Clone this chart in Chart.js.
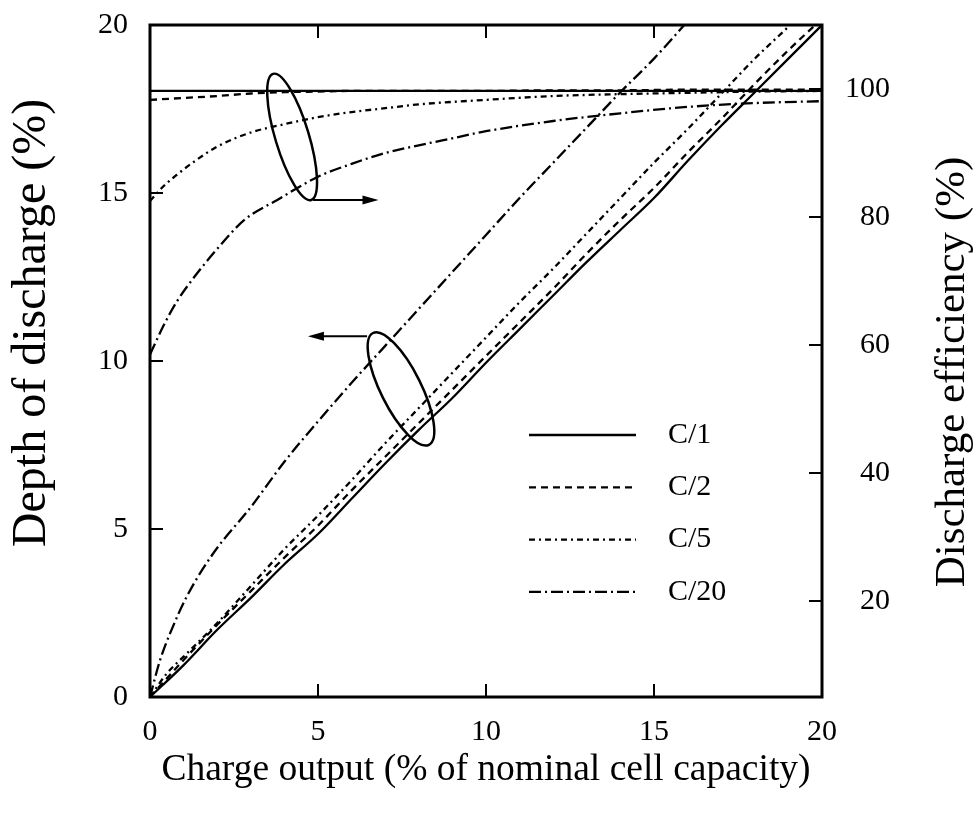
<!DOCTYPE html>
<html>
<head>
<meta charset="utf-8">
<script src="https://cdn.jsdelivr.net/npm/chart.js@4.4.1/dist/chart.umd.min.js"></script>
<style>
  html, body { margin: 0; padding: 0; background: #fff; }
  #wrap { width: 973px; height: 821px; }
</style>
</head>
<body>
<div id="wrap"><canvas id="chart"></canvas></div>
<script>
const rates = ['C/1', 'C/2', 'C/5', 'C/20'];
const dashes = [[], [7, 5], [6, 4, 2, 4], [12, 4, 2, 4]];

// depth of discharge (%) against charge output (%)
const dodX_C1 = [0, 1, 2, 3, 4, 5, 6, 7, 8, 9, 10, 11, 12, 13, 14, 15, 16, 17, 18, 19, 20];
const dodY_C1 = [0, 0.95, 2.0, 2.95, 3.95, 4.85, 5.9, 6.95, 7.95, 8.9, 9.95, 10.95, 11.95, 12.95, 13.9, 14.85, 15.95, 17.0, 18.0, 19.0, 20.0];
const dodX_C2 = [0, 1, 2, 3, 4, 5, 6, 7, 8, 9, 10, 11, 12, 13, 14, 15, 16, 17, 18, 19, 19.8];
const dodY_C2 = [0, 1.1, 2.15, 3.15, 4.15, 5.1, 6.15, 7.15, 8.15, 9.15, 10.15, 11.15, 12.15, 13.2, 14.2, 15.15, 16.2, 17.2, 18.25, 19.25, 20.0];
const dodX_C5 = [0, 0.5, 1, 2, 3, 4, 5, 6, 7, 8, 9, 10, 11, 12, 13, 14, 15, 16, 17, 18, 19, 19.25];
const dodY_C5 = [0, 0.7, 1.2, 2.2, 3.3, 4.4, 5.4, 6.45, 7.55, 8.6, 9.65, 10.7, 11.75, 12.75, 13.8, 14.85, 15.9, 16.9, 17.95, 19.0, 19.95, 20.2];
const dodX_C20 = [0, 0.3, 0.6, 1.1, 1.9, 3, 4, 5, 6, 7, 8, 9, 10, 11, 12, 13, 14, 15, 15.9];
const dodY_C20 = [0, 1.1, 1.9, 3.0, 4.3, 5.65, 7.0, 8.2, 9.35, 10.45, 11.55, 12.65, 13.75, 14.85, 15.9, 16.95, 18.0, 19.0, 20.0];

// discharge efficiency (%) against charge output (%)
const effX_C1 = [0, 20];
const effY_C1 = [99.7, 99.7];
const effX_C2 = [0, 1, 2, 3, 4, 5, 6, 8, 10, 12, 14, 16, 18, 20];
const effY_C2 = [98.3, 98.6, 98.9, 99.3, 99.5, 99.6, 99.7, 99.7, 99.7, 99.8, 99.8, 99.9, 99.9, 99.9];
const effX_C5 = [0, 0.4, 0.8, 1.3, 2, 3, 4, 5, 6, 7, 8, 10, 12, 14, 16, 18, 20];
const effY_C5 = [82.5, 84.8, 86.6, 88.6, 91.0, 93.2, 94.5, 95.6, 96.4, 97.0, 97.6, 98.3, 98.9, 99.2, 99.4, 99.6, 99.7];
const effX_C20 = [0, 0.4, 0.8, 1.3, 1.9, 2.8, 3.8, 5, 6, 7, 8, 9, 10, 12, 14, 16, 18, 20];
const effY_C20 = [58.5, 63, 66.8, 70.5, 74.4, 79.5, 82.7, 86.3, 88.3, 90.0, 91.2, 92.3, 93.4, 95.0, 96.2, 97.2, 97.8, 98.1];

const xTicks = [0, 5, 10, 15, 20];
const dodTicks = [0, 5, 10, 15, 20];
const effTicks = [20, 40, 60, 80, 100];

// the two "which axis" ellipses with arrows, in x / depth-of-discharge units
const ellipses = [
  { cx: 4.23, cy: 16.67, rx: 0.5, ry: 1.96, tilt: -0.293, from: [4.85, 14.79], to: [6.8, 14.79] },
  { cx: 7.47, cy: 9.17, rx: 0.6, ry: 1.86, tilt: -0.464, from: [6.46, 10.74], to: [4.7, 10.74] }
];

const FONT = '"Liberation Serif", "Times New Roman", serif';

function pts(xs, ys) {
  return xs.map((x, i) => ({ x: x, y: ys[i] }));
}

function line(label, xs, ys, axis, idx) {
  return {
    label: label,
    data: pts(xs, ys),
    yAxisID: axis,
    borderColor: '#000',
    borderWidth: 2.3,
    borderDash: dashes[idx],
    pointRadius: 0,
    fill: false,
    cubicInterpolationMode: 'monotone'
  };
}

const datasets = [
  line('C/1', dodX_C1, dodY_C1, 'y', 0),
  line('C/2', dodX_C2, dodY_C2, 'y', 1),
  line('C/5', dodX_C5, dodY_C5, 'y', 2),
  line('C/20', dodX_C20, dodY_C20, 'y', 3),
  line('C/1 eff', effX_C1, effY_C1, 'eff', 0),
  line('C/2 eff', effX_C2, effY_C2, 'eff', 1),
  line('C/5 eff', effX_C5, effY_C5, 'eff', 2),
  line('C/20 eff', effX_C20, effY_C20, 'eff', 3)
];

function arrow(ctx, x0, y0, x1, y1) {
  const dir = Math.sign(x1 - x0);
  ctx.beginPath();
  ctx.moveTo(x0, y0);
  ctx.lineTo(x1 - dir * 12, y1);
  ctx.stroke();
  ctx.beginPath();
  ctx.moveTo(x1, y1);
  ctx.lineTo(x1 - dir * 16, y1 - 4.5);
  ctx.lineTo(x1 - dir * 16, y1 + 4.5);
  ctx.closePath();
  ctx.fill();
}

const decorations = {
  id: 'decorations',
  afterDatasetsDraw(chart) {
    const { ctx, chartArea: a, scales } = chart;
    const xs = scales.x, ys = scales.y, es = scales.eff;
    ctx.save();
    ctx.strokeStyle = '#000';
    ctx.fillStyle = '#000';
    ctx.setLineDash([]);

    // frame
    ctx.lineWidth = 3;
    ctx.strokeRect(a.left, a.top, a.right - a.left, a.bottom - a.top);

    // inward tick marks
    const tl = 13;
    ctx.lineWidth = 2;
    ctx.beginPath();
    xTicks.forEach(v => {
      const px = xs.getPixelForValue(v);
      ctx.moveTo(px, a.bottom); ctx.lineTo(px, a.bottom - tl);
      ctx.moveTo(px, a.top); ctx.lineTo(px, a.top + tl);
    });
    dodTicks.forEach(v => {
      const py = ys.getPixelForValue(v);
      ctx.moveTo(a.left, py); ctx.lineTo(a.left + tl, py);
    });
    effTicks.forEach(v => {
      const py = es.getPixelForValue(v);
      ctx.moveTo(a.right, py); ctx.lineTo(a.right - tl, py);
    });
    ctx.stroke();

    // ellipses and arrows
    const unit = xs.getPixelForValue(1) - xs.getPixelForValue(0);
    ellipses.forEach(e => {
      ctx.lineWidth = 2.5;
      ctx.beginPath();
      ctx.ellipse(xs.getPixelForValue(e.cx), ys.getPixelForValue(e.cy),
        e.rx * unit, e.ry * unit, e.tilt, 0, Math.PI * 2);
      ctx.stroke();
      ctx.lineWidth = 2;
      arrow(ctx, xs.getPixelForValue(e.from[0]), ys.getPixelForValue(e.from[1]),
        xs.getPixelForValue(e.to[0]), ys.getPixelForValue(e.to[1]));
    });

    // legend
    ctx.font = '30px ' + FONT;
    ctx.textBaseline = 'middle';
    ctx.textAlign = 'left';
    rates.forEach((r, i) => {
      const y = a.top + 410 + i * 52.3;
      ctx.lineWidth = 2.3;
      ctx.setLineDash(dashes[i]);
      ctx.beginPath();
      ctx.moveTo(a.left + 379, y);
      ctx.lineTo(a.left + 486, y);
      ctx.stroke();
      ctx.setLineDash([]);
      ctx.fillText(r, a.left + 518, y);
    });

    // y axis titles, both read bottom to top
    ctx.textAlign = 'center';
    ctx.save();
    ctx.font = '48px ' + FONT;
    ctx.translate(32, 323);
    ctx.rotate(-Math.PI / 2);
    ctx.fillText('Depth of discharge (%)', 0, 0);
    ctx.restore();
    ctx.save();
    ctx.font = '43px ' + FONT;
    ctx.translate(953, 372);
    ctx.rotate(-Math.PI / 2);
    ctx.fillText('Discharge efficiency (%)', 0, 0);
    ctx.restore();

    ctx.restore();
  }
};

function noEdgePadding(s, width) {
  s.width = width;
  s.paddingTop = 0;
  s.paddingBottom = 0;
}

new Chart(document.getElementById('chart'), {
  type: 'line',
  data: { datasets: datasets },
  options: {
    responsive: true,
    maintainAspectRatio: false,
    animation: false,
    layout: { padding: { top: 25, right: 83, left: 0, bottom: 0 } },
    plugins: { legend: { display: false }, tooltip: { enabled: false } },
    scales: {
      x: {
        type: 'linear',
        min: 0,
        max: 20,
        afterBuildTicks: s => { s.ticks = xTicks.map(v => ({ value: v })); },
        afterFit: s => { s.height = 124; s.paddingLeft = 0; s.paddingRight = 0; },
        grid: { display: false, drawTicks: false },
        border: { display: false },
        ticks: { color: '#000', padding: 17, maxRotation: 0, font: { family: FONT, size: 30 } },
        title: {
          display: true,
          text: 'Charge output (% of nominal cell capacity)',
          color: '#000',
          padding: { top: 0, bottom: 28 },
          font: { family: FONT, size: 37.5 }
        }
      },
      y: {
        type: 'linear',
        position: 'left',
        min: 0,
        max: 20,
        afterBuildTicks: s => { s.ticks = dodTicks.map(v => ({ value: v })); },
        afterFit: s => noEdgePadding(s, 150),
        grid: { display: false, drawTicks: false },
        border: { display: false },
        ticks: { color: '#000', padding: 22, font: { family: FONT, size: 30 } }
      },
      eff: {
        type: 'linear',
        position: 'right',
        min: 5,
        max: 110,
        afterBuildTicks: s => { s.ticks = effTicks.map(v => ({ value: v })); },
        afterFit: s => noEdgePadding(s, 68),
        grid: { display: false, drawTicks: false },
        border: { display: false },
        ticks: { color: '#000', crossAlign: 'far', padding: 20, font: { family: FONT, size: 30 } }
      }
    }
  },
  plugins: [decorations]
});
</script>
</body>
</html>
